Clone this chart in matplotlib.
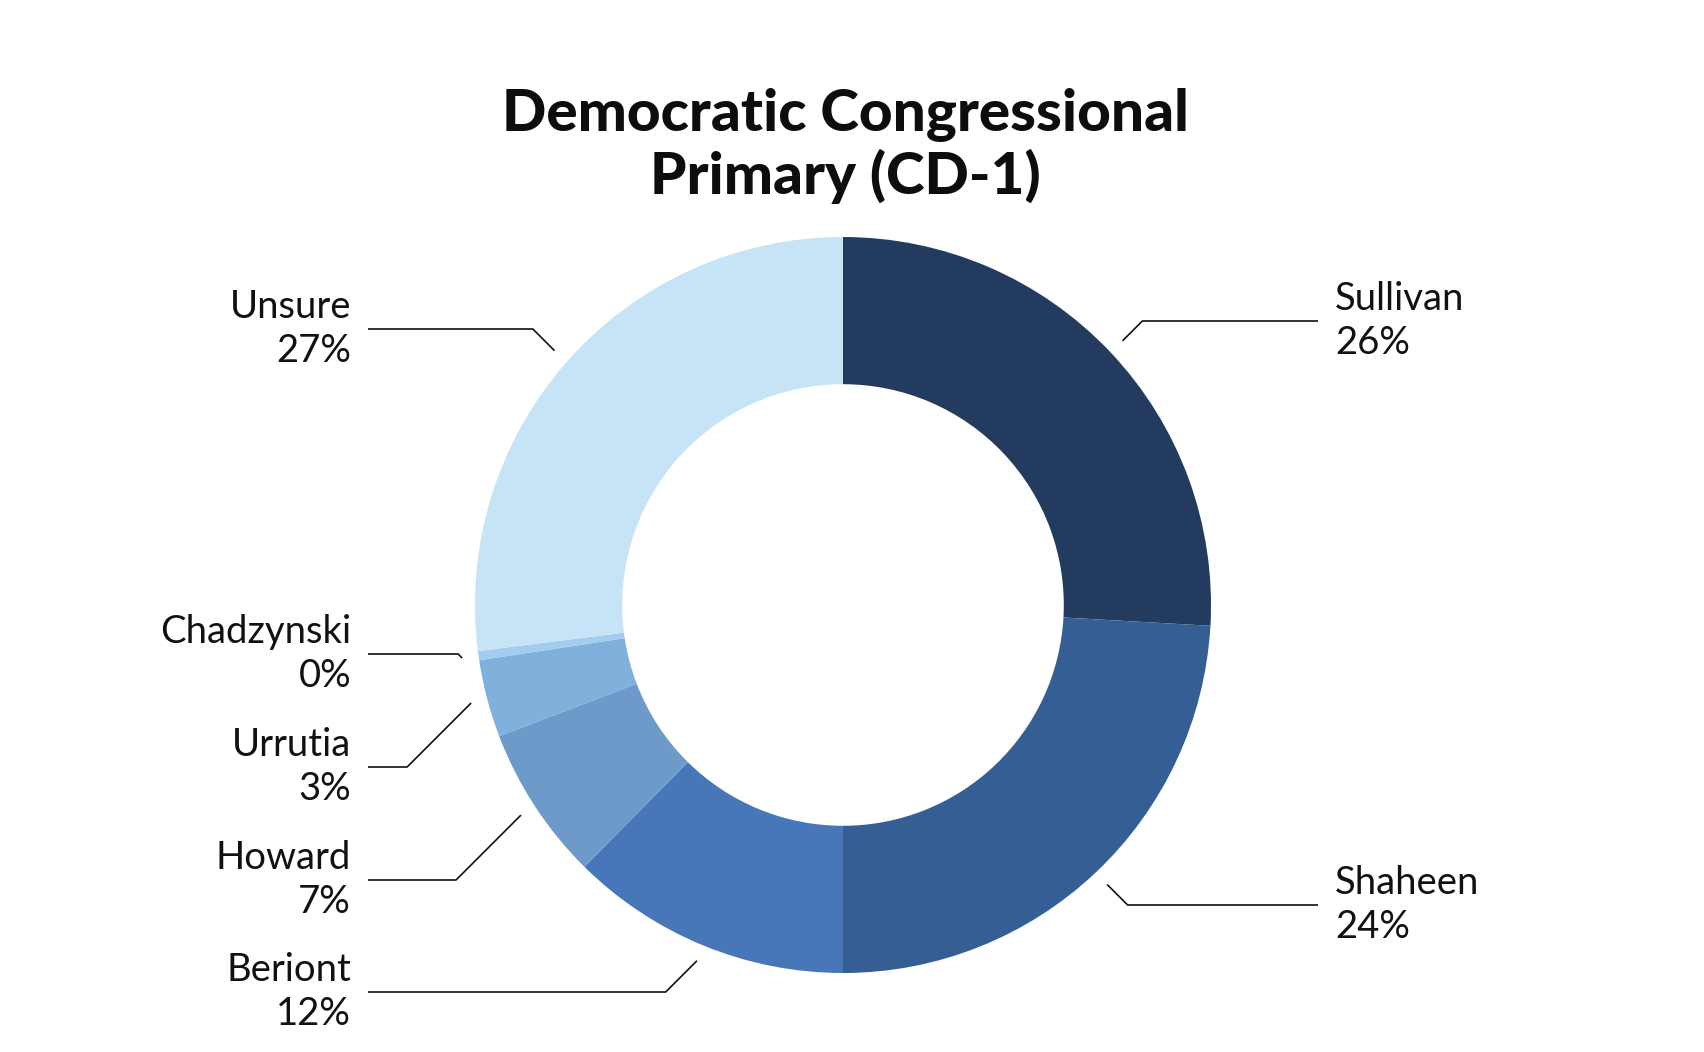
import numpy as np
import matplotlib.pyplot as plt

# poll data
candidates = ["Sullivan", "Shaheen", "Beriont", "Howard", "Urrutia", "Chadzynski", "Unsure"]
shares = [25.9, 24.1, 12.4, 6.8, 3.4, 0.4, 27.0]
colors = ["#223B5E", "#355E94", "#4777B9", "#6E9ACA", "#80B0DC", "#A2CDEE", "#C7E3F6"]

# vertical position (px from top) of each label's leader line
label_y = [321, 905, 992, 880, 767, 654, 329]

W, H = 1704, 1052
fig = plt.figure(figsize=(W / 100, H / 100), dpi=100)
ax = fig.add_axes([0, 0, 1, 1])

cx, cy, R = 843, H - 605, 368
wedges, _ = ax.pie(shares, colors=colors, startangle=90, counterclock=False,
                   radius=R, center=(cx, cy),
                   wedgeprops=dict(width=0.4 * R, linewidth=0))
ax.set_xlim(0, W)
ax.set_ylim(0, H)
ax.set_aspect("equal")
ax.axis("off")

# leader lines + labels
for w, name, val, ly in zip(wedges, candidates, shares, label_y):
    ang = np.deg2rad((w.theta1 + w.theta2) / 2)
    px = cx + 1.045 * R * np.cos(ang)
    py = cy + 1.045 * R * np.sin(ang)
    ly = H - ly
    side = 1 if np.cos(ang) > 0 else -1
    ex = px + side * abs(py - ly)
    end = cx + side * 475
    ax.plot([px, ex, end], [py, ly, ly], color="#111111", lw=1.2,
            solid_capstyle="butt")
    ax.text(end + side * 17, ly, f"{name}\n{round(val)}%",
            ha="left" if side > 0 else "right", va="center",
            fontsize=27.5, family="Lato", color="#111111", linespacing=1.25)

fig.text(845 / W, 1 - 146 / H, "Democratic Congressional\nPrimary (CD-1)",
         ha="center", va="center", fontsize=42, fontweight="black",
         family="Lato", color="#0d0d0d", linespacing=1.15)

plt.savefig("out.png", dpi=100)
